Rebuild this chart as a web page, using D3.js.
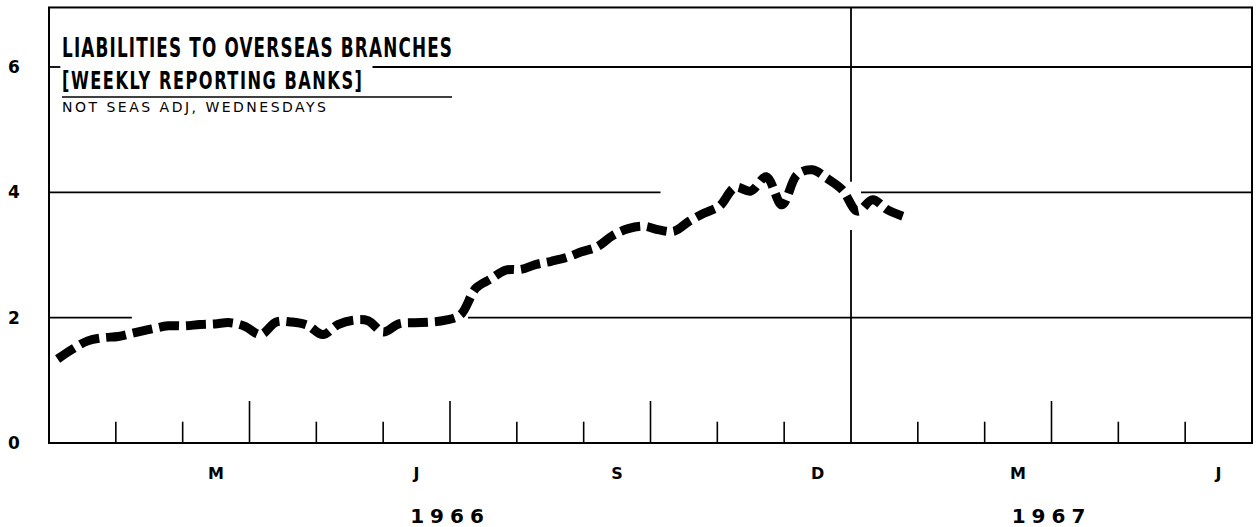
<!DOCTYPE html>
<html>
<head>
<meta charset="utf-8">
<script src="https://cdn.jsdelivr.net/npm/d3@7/dist/d3.min.js"></script>
<style>
  body { margin: 0; background: #fff; }
  #chart { width: 1258px; height: 527px; }
  .lbl { font-family: "DejaVu Sans", sans-serif; font-weight: bold; fill: #000; }
  .ttl { font-family: "Liberation Sans Narrow", "DejaVu Sans Condensed", sans-serif; font-weight: bold; fill: #000; }
</style>
</head>
<body>
<div id="chart"></div>
<script>
// Wednesdays, Jan 1966 - Jan 1967
const weekDates = [
  "1966-01-05","1966-01-12","1966-01-19","1966-01-26",
  "1966-02-02","1966-02-09","1966-02-16","1966-02-23",
  "1966-03-02","1966-03-09","1966-03-16","1966-03-23","1966-03-30",
  "1966-04-06","1966-04-13","1966-04-20","1966-04-27",
  "1966-05-04","1966-05-11","1966-05-18","1966-05-25",
  "1966-06-01","1966-06-08","1966-06-15","1966-06-22","1966-06-29",
  "1966-07-06","1966-07-13","1966-07-20","1966-07-27",
  "1966-08-03","1966-08-10","1966-08-17","1966-08-24","1966-08-31",
  "1966-09-07","1966-09-14","1966-09-21","1966-09-28",
  "1966-10-05","1966-10-12","1966-10-19","1966-10-26",
  "1966-11-02","1966-11-09","1966-11-16","1966-11-23","1966-11-30",
  "1966-12-07","1966-12-14","1966-12-21","1966-12-28",
  "1967-01-04","1967-01-11","1967-01-18","1967-01-25"
];
// billions of dollars
const weekValues = [
  1.34, 1.50, 1.63, 1.68,
  1.70, 1.76, 1.82, 1.87,
  1.87, 1.89, 1.90, 1.92, 1.86,
  1.73, 1.93, 1.93, 1.88,
  1.73, 1.89, 1.96, 1.95,
  1.77, 1.90, 1.92, 1.93, 1.96,
  2.05, 2.47, 2.62, 2.76,
  2.77, 2.85, 2.90, 2.96, 3.05,
  3.13, 3.31, 3.42, 3.46,
  3.40, 3.38, 3.54, 3.67,
  3.78, 4.08, 4.02, 4.25, 3.80,
  4.28, 4.36, 4.22, 4.04,
  3.70, 3.88, 3.72, 3.62
];

const yTickValues = [0, 2, 4, 6];
const monthLabelIdx = [2, 5, 8, 11, 14, 17];
const monthLabelText = ["M", "J", "S", "D", "M", "J"];
const yearLabelText = ["1966", "1967"];
const yearLabelCenter = [6, 15];     // month index the label sits under
const quarterTicks = [3, 6, 9, 15];  // long ticks
// horizontal rules drawn in pieces (month index ranges), gaps left for title and curve
const gridValues = [2, 4, 6];
const gridPieces = [
  [[0, 1.24], [6.27, 18]],
  [[0, 9.15], [12.15, 18]],
  [[0, 0.17], [4.84, 18]]
];

// month index: months since Jan 1966, each month the same width
function monthPos(s) {
  const [yy, mm, dd] = s.split("-").map(Number);
  const dim = new Date(yy, mm, 0).getDate();
  return (yy - 1966) * 12 + (mm - 1) + (dd - 1) / dim;
}

const data = weekDates.map((d, i) => ({ m: monthPos(d), value: weekValues[i] }));

const W = 1258, H = 527;
const svg = d3.select("#chart").append("svg")
  .attr("width", W).attr("height", H);

const x = d3.scaleLinear().domain([0, 18]).range([49, 1252]);
const y = d3.scaleLinear().domain([0, 6]).range([443, 67]);
const topV = 6.95;

// grid rules
gridValues.forEach((v, k) => {
  svg.append("g").selectAll("line")
    .data(gridPieces[k])
    .join("line")
    .attr("x1", d => x(d[0])).attr("x2", d => x(d[1]))
    .attr("y1", y(v)).attr("y2", y(v))
    .attr("stroke", "#000").attr("stroke-width", 1.8);
});

// year divider (gap where the curve passes)
svg.append("g").selectAll("line")
  .data([[0, 3.4], [4.17, topV]])
  .join("line")
  .attr("x1", x(12)).attr("x2", x(12))
  .attr("y1", d => y(d[0])).attr("y2", d => y(d[1]))
  .attr("stroke", "#000").attr("stroke-width", 1.8);

// month ticks along the base
const tickMonths = d3.range(1, 18).filter(m => m !== 12);
svg.append("g").selectAll("line")
  .data(tickMonths)
  .join("line")
  .attr("x1", d => x(d)).attr("x2", d => x(d))
  .attr("y1", y(0))
  .attr("y2", d => quarterTicks.includes(d) ? y(0.67) : y(0.34))
  .attr("stroke", "#000").attr("stroke-width", 1.6);

// frame
svg.append("rect")
  .attr("x", x(0)).attr("y", y(topV))
  .attr("width", x(18) - x(0)).attr("height", y(0) - y(topV))
  .attr("fill", "none").attr("stroke", "#000").attr("stroke-width", 2);

// data curve
const line = d3.line()
  .x(d => x(d.m))
  .y(d => y(d.value))
  .curve(d3.curveCatmullRom.alpha(0.5));

svg.append("path")
  .datum(data)
  .attr("fill", "none")
  .attr("stroke", "#000")
  .attr("stroke-width", 9)
  .attr("stroke-dasharray", "20 7")
  .attr("stroke-linejoin", "round")
  .attr("d", line);

// y labels
svg.append("g").selectAll("text")
  .data(yTickValues)
  .join("text")
  .attr("class", "lbl")
  .attr("x", 14).attr("y", d => y(d))
  .attr("dy", "0.36em")
  .attr("text-anchor", "middle")
  .attr("font-size", 17)
  .text(d => d);

// month labels
svg.append("g").selectAll("text")
  .data(monthLabelIdx)
  .join("text")
  .attr("class", "lbl")
  .attr("x", d => x(d + 0.5)).attr("y", 479)
  .attr("text-anchor", "middle")
  .attr("font-size", 16)
  .text((d, i) => monthLabelText[i]);

// year labels
svg.append("g").selectAll("text")
  .data(yearLabelText)
  .join("text")
  .attr("class", "lbl")
  .attr("x", (d, i) => x(yearLabelCenter[i])).attr("y", 523)
  .attr("text-anchor", "middle")
  .attr("font-size", 20)
  .attr("letter-spacing", "6px")
  .text(d => d);

// title block: narrow letters, wide tracking
const squeeze = 0.72;
const titleRows = [
  { text: "LIABILITIES TO OVERSEAS BRANCHES", y: 57, size: 26, width: 390 },
  { text: "[WEEKLY REPORTING BANKS]", y: 89, size: 25, width: 300 }
];
const title = svg.append("g");
title.selectAll("g.row")
  .data(titleRows)
  .join("g")
  .attr("class", "row")
  .attr("transform", d => `translate(62,${d.y}) scale(${squeeze},1)`)
  .append("text")
  .attr("class", "ttl")
  .attr("font-size", d => d.size)
  .attr("textLength", d => d.width / squeeze)
  .attr("lengthAdjust", "spacing")
  .text(d => d.text);
title.append("line")
  .attr("x1", 62).attr("x2", 452).attr("y1", 97).attr("y2", 97)
  .attr("stroke", "#000").attr("stroke-width", 1.5);
title.append("text")
  .attr("x", 62).attr("y", 112)
  .attr("font-family", "'DejaVu Sans', sans-serif")
  .attr("font-size", 14)
  .attr("textLength", 264).attr("lengthAdjust", "spacing")
  .text("NOT SEAS ADJ, WEDNESDAYS");
</script>
</body>
</html>
